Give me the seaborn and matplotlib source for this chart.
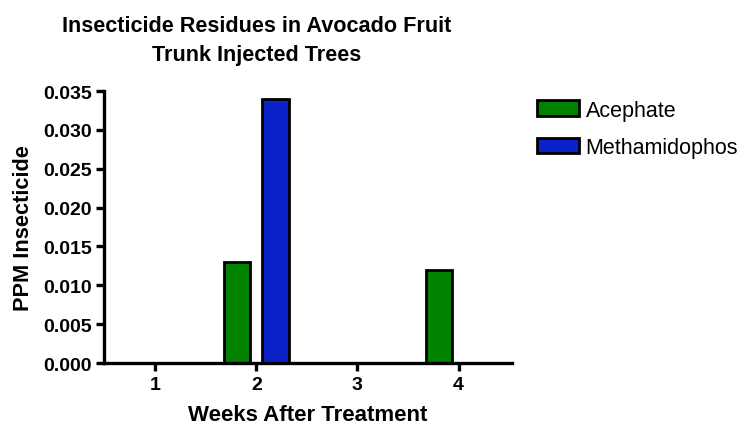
import matplotlib
matplotlib.use("Agg")
import matplotlib.pyplot as plt
import seaborn as sns
import pandas as pd

weeks = ["1", "2", "3", "4"]
acephate = [0.0, 0.013, 0.0, 0.012]
methamidophos = [0.0, 0.034, 0.0, 0.0]
series_names = ["Acephate", "Methamidophos"]
colors = ["#008200", "#0A22C8"]
yticks = [0.000, 0.005, 0.010, 0.015, 0.020, 0.025, 0.030, 0.035]

df = pd.DataFrame({
    "week": weeks * 2,
    "value": acephate + methamidophos,
    "series": [series_names[0]] * 4 + [series_names[1]] * 4,
})

sns.set_theme(style="ticks")
plt.rcParams['font.family'] = ['Liberation Sans', 'DejaVu Sans']
plt.rcParams.update({"text.color": "black", "axes.labelcolor": "black",
                     "xtick.color": "black", "ytick.color": "black"})

fig = plt.figure(figsize=(7.38, 4.27), dpi=100)
ax = fig.add_axes([0.141, 0.1475, 0.553, 0.637])

sns.barplot(data=df, x="week", y="value", hue="series", order=weeks,
            hue_order=series_names, palette=colors, width=0.76, gap=0.32,
            edgecolor="black", linewidth=2, saturation=1, ax=ax, errorbar=None)

ax.set_xlim(-0.505, 3.53)
ax.set_ylim(0, 0.035)
ax.set_yticks(yticks)
ax.set_yticklabels([f"{v:.3f}" for v in yticks])
for side in ["top", "right"]:
    ax.spines[side].set_visible(False)
for side in ["left", "bottom"]:
    ax.spines[side].set_linewidth(2.4)
    ax.spines[side].set_color("black")
ax.tick_params(axis="both", direction="out", length=6, width=2.4, color="black",
               labelsize=14, pad=3, labelcolor="black")
for lab in ax.get_xticklabels() + ax.get_yticklabels():
    lab.set_fontweight("bold")
ax.set_xlabel("Weeks After Treatment", fontsize=16, fontweight="bold", labelpad=8)
ax.set_ylabel("PPM Insecticide", fontsize=15.7, fontweight="bold", labelpad=6)

fig.text(257/738, 1 - 41/427, "Insecticide Residues in Avocado Fruit\nTrunk Injected Trees",
         ha="center", va="center", fontsize=15.6, fontweight="bold", linespacing=1.45)

leg = ax.legend(loc="upper left", bbox_to_anchor=(1.04, 1.0), frameon=False,
                fontsize=15.5, handlelength=1.95, handleheight=0.75, labelspacing=0.76,
                handletextpad=0.3, borderaxespad=0)
for h in leg.legend_handles:
    h.set_linewidth(2)
    h.set_edgecolor("black")

fig.savefig("out.png", dpi=100)
